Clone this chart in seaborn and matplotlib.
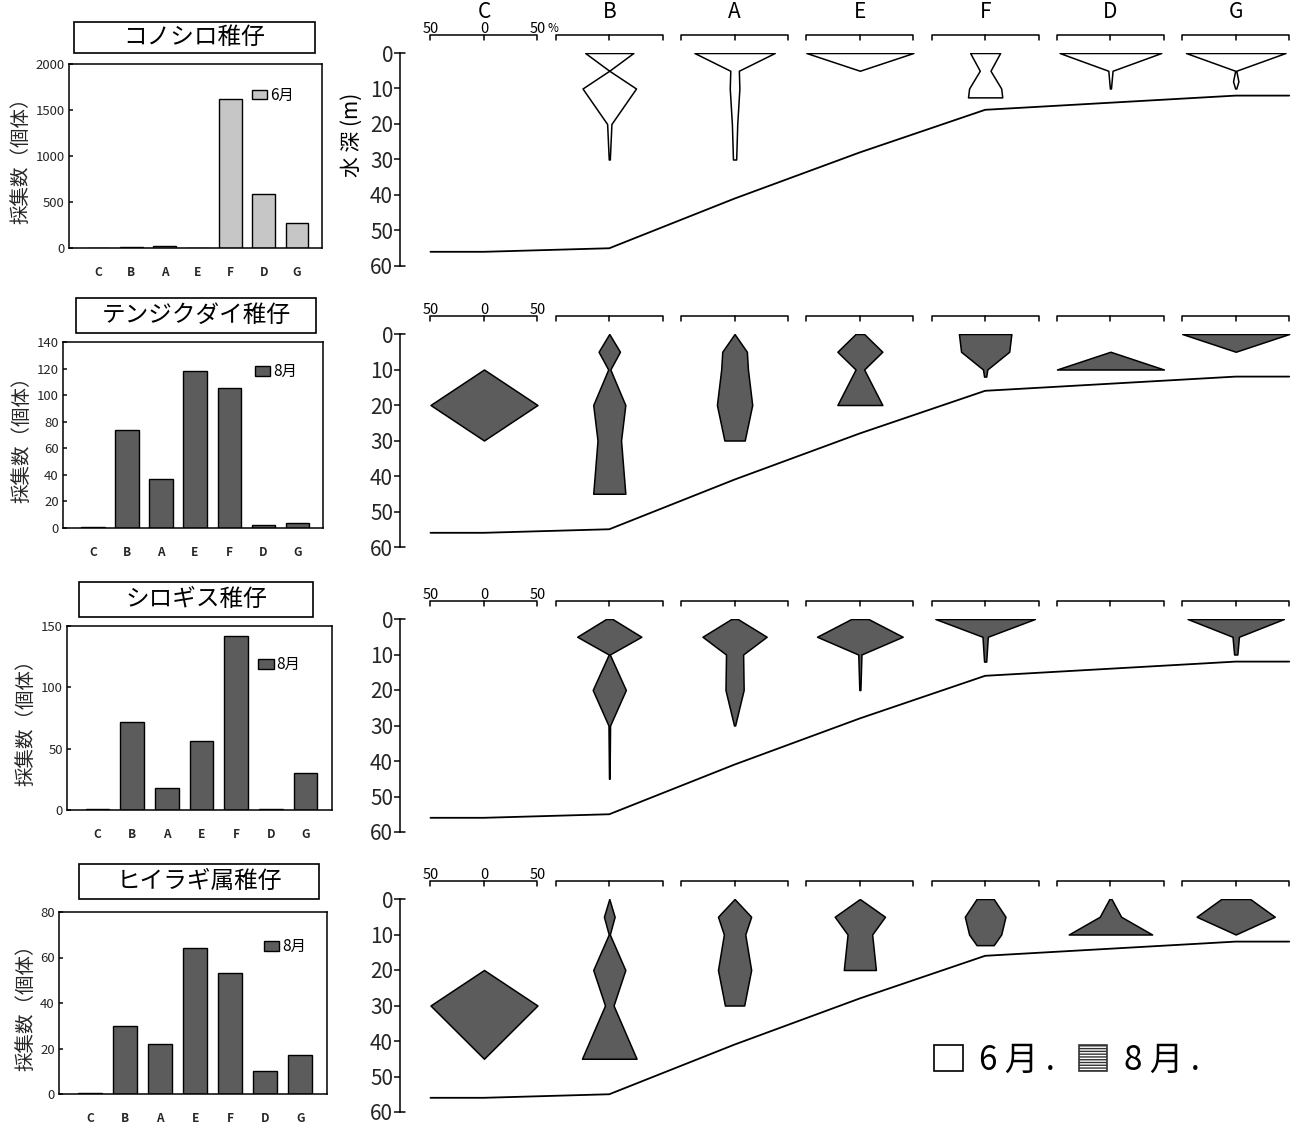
import numpy as np
import pandas as pd
import matplotlib
matplotlib.use("Agg")
import matplotlib.pyplot as plt
from matplotlib.patches import Patch, Rectangle
import seaborn as sns

sns.set_theme(style="white")
plt.rcParams["font.family"] = ["Noto Sans CJK JP", "DejaVu Sans"]
plt.rcParams["text.color"] = "black"
plt.rcParams["axes.edgecolor"] = "black"

W, H = 1300, 1126

# ---- data -----------------------------------------------------------------
stations = ["C", "B", "A", "E", "F", "D", "G"]
bottom_depth = [56, 55, 41, 28, 16, 14, 12]          # m, sea-floor profile
species = ["コノシロ稚仔", "テンジクダイ稚仔", "シロギス稚仔", "ヒイラギ属稚仔"]
months = ["6月", "8月", "8月", "8月"]

count_konoshiro = [0, 8, 25, 5, 1620, 585, 275]
count_tenjikudai = [0.5, 74, 37, 118, 105, 2, 4]
count_shirogisu = [0.5, 72, 18, 56, 142, 0.5, 30]
count_hiiragi = [0.5, 30, 22, 64, 53, 10, 17]

count_ticks_konoshiro = [0, 500, 1000, 1500, 2000]
count_ticks_tenjikudai = [0, 20, 40, 60, 80, 100, 120, 140]
count_ticks_shirogisu = [0, 50, 100, 150]
count_ticks_hiiragi = [0, 20, 40, 60, 80]

depth_ticks = [0, 10, 20, 30, 40, 50, 60]

# vertical distribution: station -> (layer depths in m, share of catch in %)
kite_konoshiro = {
    "B": ([0, 5, 10, 20, 30], [45, 0, 50, 4, 1]),
    "A": ([0, 5, 10, 20, 30], [75, 8, 9, 5, 3]),
    "E": ([0, 5], [100, 0]),
    "F": ([0, 5, 10, 12.5], [28, 10, 30, 32]),
    "D": ([0, 5, 10], [95, 4, 1]),
    "G": ([0, 5, 8, 10], [93, 1, 5, 1]),
}
kite_tenjikudai = {
    "C": ([10, 20, 30], [0, 100, 0]),
    "B": ([0, 5, 10, 20, 30, 45], [0, 20, 2, 30, 22, 30]),
    "A": ([0, 5, 10, 20, 30], [0, 23, 25, 33, 19]),
    "E": ([0, 5, 10, 20], [8, 42, 8, 42]),
    "F": ([0, 5, 10, 12], [49, 45, 4, 2]),
    "D": ([5, 10], [0, 100]),
    "G": ([0, 5], [100, 0]),
}
kite_shirogisu = {
    "B": ([0, 5, 10, 20, 30, 45], [6, 60, 1, 31, 1.5, 0.5]),
    "A": ([0, 5, 10, 20, 30], [6, 60, 16, 17, 1]),
    "E": ([0, 5, 10, 20], [16, 80, 3, 1]),
    "F": ([0, 5, 12], [93, 5, 2]),
    "G": ([0, 5, 10], [90, 6, 3]),
}
kite_hiiragi = {
    "C": ([20, 30, 45], [0, 100, 0]),
    "B": ([0, 5, 10, 20, 30, 45], [0, 10, 1, 30, 8, 51]),
    "A": ([0, 5, 10, 20, 30], [0, 31, 20, 31, 18]),
    "E": ([0, 5, 10, 20], [0, 47, 23, 30]),
    "F": ([0, 5, 10, 13], [16, 38, 30, 16]),
    "D": ([0, 5, 10], [2, 20, 78]),
    "G": ([0, 5, 10], [27, 73, 0]),
}

counts = [count_konoshiro, count_tenjikudai, count_shirogisu, count_hiiragi]
count_ticks = [count_ticks_konoshiro, count_ticks_tenjikudai,
               count_ticks_shirogisu, count_ticks_hiiragi]
kites = [kite_konoshiro, kite_tenjikudai, kite_shirogisu, kite_hiiragi]

# ---- layout (pixels) --------------------------------------------------------
bar_boxes = [(69, 64, 322, 248), (63, 342, 323, 528),
             (67, 626, 332, 810), (59, 912, 327, 1094)]
title_boxes = [(74, 22, 315, 53), (76, 298, 316, 333),
               (79, 582, 313, 617), (79, 864, 319, 899)]
legend_anchor = [(0.92, 0.83), (0.93, 0.84), (0.91, 0.79), (0.95, 0.81)]
profile_tops = [53, 334, 619, 899]
profile_height = 213

STEP = 117.1                      # station spacing in % units
station_x = np.arange(len(stations)) * STEP

colors = {"6月": "#c6c6c6", "8月": "#5c5c5c"}
kite_fill = {"6月": "white", "8月": "#5c5c5c"}

fig = plt.figure(figsize=(W / 100, H / 100), dpi=100)


def px_axes(l, t, r, b):
    return fig.add_axes([l / W, 1 - b / H, (r - l) / W, (b - t) / H])


for row in range(4):
    month = months[row]

    # title box
    l, t, r, b = title_boxes[row]
    fig.patches.append(Rectangle((l / W, 1 - b / H), (r - l) / W, (b - t) / H,
                                 transform=fig.transFigure, facecolor="white",
                                 edgecolor="black", linewidth=1.2))
    fig.text((l + r) / 2 / W, 1 - (t + b) / 2 / H, species[row], ha="center",
             va="center", fontsize=17)

    # catch counts per station
    ax = px_axes(*bar_boxes[row])
    sns.barplot(x=stations, y=counts[row], order=stations, color=colors[month],
                saturation=1, edgecolor="black", linewidth=1.0, width=0.68, ax=ax)
    ax.set_xlim(-0.88, 6.76)
    ax.set_ylim(0, count_ticks[row][-1])
    ax.set_yticks(count_ticks[row])
    ax.tick_params(axis="y", left=True, direction="in", length=3, labelsize=9.5,
                   pad=3)
    ax.tick_params(axis="x", bottom=False, labelsize=8.5, pad=7)
    for lab in ax.get_xticklabels():
        lab.set_fontweight("bold")
    ax.set_ylabel("採集数（個体）", fontsize=14, labelpad=3)
    for sp in ax.spines.values():
        sp.set_color("black")
        sp.set_linewidth(1.1)
    ax.legend(handles=[Patch(facecolor=colors[month], edgecolor="black")],
              labels=[month], loc="center right",
              bbox_to_anchor=legend_anchor[row], frameon=False, fontsize=11,
              handlelength=1.0, handleheight=0.6, handletextpad=0.2,
              borderpad=0)

    # vertical distribution profile
    top = profile_tops[row]
    pax = px_axes(400, top, 1295, top + profile_height)
    for st, (d, p) in kites[row].items():
        xc = station_x[stations.index(st)]
        d = np.asarray(d, float)
        p = np.asarray(p, float)
        pax.fill_betweenx(d, xc - p / 2, xc + p / 2, facecolor=kite_fill[month],
                          edgecolor="black", linewidth=1.1, zorder=3)

    floor = pd.DataFrame({
        "x": np.concatenate([[station_x[0] - 50], station_x, [station_x[-1] + 50]]),
        "depth": [bottom_depth[0]] + bottom_depth + [bottom_depth[-1]],
    })
    sns.lineplot(data=floor, x="x", y="depth", sort=False, estimator=None,
                 color="black", linewidth=1.3, ax=pax)

    # percentage scale bracket above each station
    for i, xc in enumerate(station_x):
        pax.plot([xc - 50, xc - 50, xc + 50, xc + 50], [-3.6, -5, -5, -3.6],
                 color="black", linewidth=1.1, clip_on=False)
        pax.plot([xc, xc], [-5, -3.6], color="black", linewidth=1.1,
                 clip_on=False)
        if row == 0:
            pax.text(xc, -11.6, stations[i], ha="center", va="center",
                     fontsize=15)
    xc0 = station_x[0]
    pax.text(xc0 - 50, -5.6, "50", ha="center", va="baseline", fontsize=10.5)
    pax.text(xc0, -5.6, "0", ha="center", va="baseline", fontsize=10.5)
    pax.text(xc0 + 50, -5.6, "50", ha="center", va="baseline", fontsize=10.5)
    if row == 0:
        pax.text(xc0 + 59, -5.9, "%", ha="left", va="baseline", fontsize=8.5)

    xmin = -78.5
    pax.set_xlim(xmin, 758)
    pax.set_ylim(60, 0)
    pax.set_yticks(depth_ticks)
    pax.set_xticks([])
    pax.set_xlabel("")
    pax.set_ylabel("")
    for side in ["top", "right", "bottom"]:
        pax.spines[side].set_visible(False)
    pax.spines["left"].set_color("black")
    pax.spines["left"].set_linewidth(1.1)
    pax.tick_params(axis="y", left=True, direction="out", length=4,
                    labelsize=15, pad=1)
    pax.plot([xmin, xmin + 4.5], [0, 0], color="black", linewidth=1.1,
             clip_on=False)
    pax.plot([xmin, xmin + 4.5], [60, 60], color="black", linewidth=1.1,
             clip_on=False)
    pax.patch.set_alpha(0)
    if row == 0:
        pax.text(xmin - 45, 23, "水 深 (m)", rotation=90, ha="center",
                 va="center", fontsize=15)

# month key
fig.legend(handles=[Patch(facecolor="white", edgecolor="black", linewidth=1.2),
                    Patch(facecolor="white", edgecolor="#333333", hatch="------",
                          linewidth=1.2)],
           labels=["6 月 .", "8 月 ."], ncol=2, loc="center",
           bbox_to_anchor=(1067 / W, 1 - 1060 / H), frameon=False, fontsize=24,
           handlelength=0.85, handleheight=0.85, handletextpad=0.5,
           columnspacing=0.7)

fig.savefig("out.png", dpi=100)
